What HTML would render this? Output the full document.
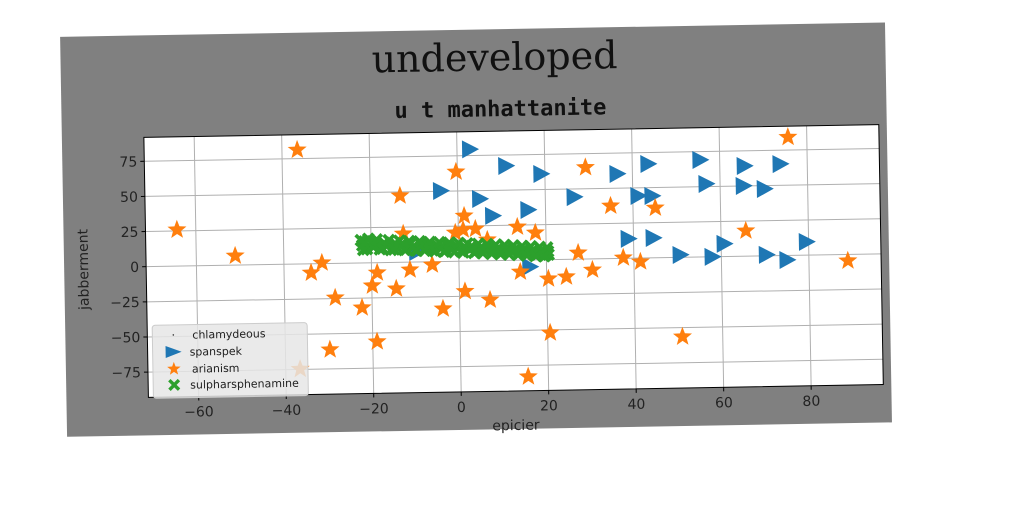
<!DOCTYPE html>
<html><head><meta charset="utf-8"><style>
html,body{margin:0;padding:0;background:#fff;width:1024px;height:512px;overflow:hidden}
svg{display:block}
text{font-family:"DejaVu Sans","Liberation Sans",sans-serif}
</style></head><body>
<svg id="chart" width="1024" height="512" viewBox="0 0 1024 512" xmlns="http://www.w3.org/2000/svg">
<g id="root" transform="rotate(-1 512 256)">
<rect x="64" y="29" width="825" height="400" fill="#808080"/>
<text x="498" y="70" text-anchor="middle" font-size="38" style="font-family:'DejaVu Serif','Liberation Serif',serif" fill="#111">undeveloped</text>
<text x="503" y="116" text-anchor="middle" font-size="22" font-weight="bold" style="font-family:'DejaVu Sans Mono','Liberation Mono',monospace" fill="#111">u t manhattanite</text>
<rect x="146" y="131" width="735" height="260" fill="#fff"/>
<g id="grid"></g>
<g id="marks"></g>
<rect x="146" y="131" width="735" height="260" fill="none" stroke="#000" stroke-width="1"/>
<g id="ticks"></g>
<text x="513" y="430" text-anchor="middle" font-size="14" fill="#222">epicier</text>
<text transform="translate(88 262) rotate(-90)" text-anchor="middle" font-size="14" fill="#222">jabberment</text>
<g>
<rect x="151" y="319" width="155" height="73" rx="3" fill="#e6e6e6" fill-opacity="0.85" stroke="#ccc"/>
<g><circle cx="172" cy="329" r="0.8" fill="#333"/><text x="191" y="333" font-size="11" fill="#222">chlamydeous</text></g>
<g><path d="M164,340 L180,346 L164,352 Z" fill="#1f77b4"/><text x="188" y="350" font-size="11" fill="#222">spanspek</text></g>
<g><path id="legstar" fill="#ff7f0e"/><text x="190" y="367" font-size="11" fill="#222">arianism</text></g>
<g><path id="legx" fill="#2ca02c"/><text x="188" y="383" font-size="11" fill="#222">sulpharsphenamine</text></g>
</g>
</g>
</svg>
<script>
const xTicks=[-60,-40,-20,0,20,40,60,80];
const yTicks=[-75,-50,-25,0,25,50,75];
const blueX=[3.0,11.2,19.2,-3.8,5.1,8.0,16.1,26.7,36.6,43.7,55.6,56.9,41.3,44.5,65.7,73.9,65.4,70.2,38.9,44.6,50.7,58.0,70.4,75.1,79.6,60.8,16.3,-9.5];
const blueY=[79.5,67.3,61.1,50.3,44.1,31.9,35.7,44.3,60.2,66.9,69.1,52.0,44.3,44.1,64.3,65.2,50.1,47.7,13.9,14.2,1.8,0,0.8,-3.1,9.5,9.1,-4.8,7.2];
const orangeX=[-36.5,-64.3,-51.1,-13.2,-0.3,1.4,-12.6,-0.7,1.1,3.9,6.6,13.5,17.6,-31.3,-33.8,-18.7,-11.2,-6.1,-19.9,-14.4,-28.4,-22.3,1.3,7.0,-3.8,-19.0,-29.8,-36.7,14.0,20.4,20.6,15.4,75.7,29.3,34.9,45.1,65.7,27.3,37.6,41.5,30.5,24.5,88.9,50.8];
const orangeY=[81.2,25.9,6.6,47.3,63.6,32.2,20.2,20.3,22.3,22.8,14.9,23.7,19.3,0.6,-6.4,-7.2,-5.5,-2.2,-16.3,-18.8,-24.5,-31.9,-21.5,-27.9,-33.6,-56.2,-61.3,-74.8,-8.3,-13.6,-52.0,-83.0,84.2,65.2,37.5,35.5,18.1,4.5,0.4,-2.6,-7.8,-12.4,-4.5,-56.5];
const greenX=[-22,-21.5,-21,-20,-19.5,-19,-18,-17,-16.5,-15.5,-14.5,-14,-13,-12,-11,-10.5,-9.5,-8.5,-7.5,-7,-6,-5,-4,-3,-2.5,-1.5,-0.5,0.5,1.5,2.5,3,4,5,6,7,8,9,10,11,12,13,14,15,16,17,18,19,19.8,20.4,20.5,
 -21.8,-20.6,-18.7,-17.4,-15.9,-14.8,-13.5,-12.4,-11.3,-9.9,-8.9,-7.8,-6.6,-5.4,-4.4,-3.4,-2.1,-1.0,0.0,1.0,2.0,3.5,4.5,5.5,6.5,7.5,8.5,9.5,10.5,11.5,12.5,13.5,14.5,15.5,16.5,17.5,18.5,19.5,20.2,-22.3];
const greenY=[12.5,15.2,9.8,14.6,11.0,13.9,9.5,14.0,11.6,8.9,13.5,10.2,12.8,9.0,13.1,10.5,8.2,12.4,9.7,12.0,8.1,11.8,9.4,7.6,11.3,8.8,10.9,7.2,9.9,7.9,10.6,6.8,9.3,7.4,10.1,6.5,8.7,5.9,9.0,6.3,8.2,5.2,7.9,4.6,7.1,3.8,6.5,3.1,5.8,3.6,
 9.3,17.0,16.4,10.0,15.8,9.2,15.3,8.7,14.9,8.3,14.6,7.9,14.0,7.4,13.7,7.0,13.3,6.6,12.9,6.2,12.5,5.8,12.1,5.4,11.7,5.0,11.3,4.6,10.9,4.2,10.5,3.8,10.0,3.3,9.6,2.9,9.1,2.5,8.6,16.2];
const chlX=[], chlY=[];
const L=146,T=131,W=735,H=260,xmin=-71.5,xmax=96.5,ymin=-93,ymax=92;
const sx=v=>L+(v-xmin)/(xmax-xmin)*W;
const sy=v=>T+(ymax-v)/(ymax-ymin)*H;
const NS='http://www.w3.org/2000/svg';
const grid=document.getElementById('grid'),marks=document.getElementById('marks'),ticks=document.getElementById('ticks');
function mk(tag,attrs,parent){const e=document.createElementNS(NS,tag);for(const k in attrs)e.setAttribute(k,attrs[k]);parent.appendChild(e);return e;}
function star(cx,cy,r){let d='';for(let i=0;i<10;i++){const a=-Math.PI/2+i*Math.PI/5;const rr=i%2?r*0.42:r;d+=(i?'L':'M')+(cx+rr*Math.cos(a)).toFixed(1)+','+(cy+rr*Math.sin(a)).toFixed(1);}return d+'Z';}
function xmark(cx,cy,s){const t=s*0.4;return `M${cx-s},${cy-s+t}L${cx-s+t},${cy-s}L${cx},${cy-t}L${cx+s-t},${cy-s}L${cx+s},${cy-s+t}L${cx+t},${cy}L${cx+s},${cy+s-t}L${cx+s-t},${cy+s}L${cx},${cy+t}L${cx-s+t},${cy+s}L${cx-s},${cy+s-t}L${cx-t},${cy}Z`;}
document.getElementById('legstar').setAttribute('d',star(172,363,7));
document.getElementById('legx').setAttribute('d',xmark(172,379,6));
xTicks.forEach(v=>{
 const g=mk('line',{x1:sx(v),x2:sx(v),y1:T,y2:T+H,stroke:'#b0b0b0','stroke-width':1},grid);
 
 
 const tk=mk('line',{x1:sx(v),x2:sx(v),y1:T+H,y2:T+H+4,stroke:'#000'},ticks);
 
 
 const t=mk('text',{x:sx(v),y:T+H+20,'text-anchor':'middle','font-size':14,fill:'#222'},ticks);
 t.textContent=(v<0?'\u2212'+(-v):v);
 
 
});
yTicks.forEach(v=>{
 const g=mk('line',{x1:L,x2:L+W,y1:sy(v),y2:sy(v),stroke:'#b0b0b0','stroke-width':1},grid);
 
 
 const tk=mk('line',{x1:L-4,x2:L,y1:sy(v),y2:sy(v),stroke:'#000'},ticks);
 
 
 const t=mk('text',{x:L-7,y:sy(v)+5,'text-anchor':'end','font-size':14,fill:'#222'},ticks);
 t.textContent=(v<0?'\u2212'+(-v):v);
 
 
});
blueX.forEach((v,i)=>{const x=sx(v),y=sy(blueY[i]);
 const p=mk('path',{d:`M${x-8},${y-9}L${x+9},${y}L${x-8},${y+9}Z`,fill:'#1f77b4'},marks);
 
 
});
orangeX.forEach((v,i)=>{
 const p=mk('path',{d:star(sx(v),sy(orangeY[i]),10),fill:'#ff7f0e'},marks);
 
 
});
greenX.forEach((v,i)=>{
 const p=mk('path',{d:xmark(sx(v),sy(greenY[i]),6.5),fill:'#2ca02c'},marks);
 
 
});
chlX.forEach((v,i)=>{
 const p=mk('circle',{cx:sx(v),cy:sy(chlY[i]),r:1,fill:'#333'},marks);
 
 
});
</script>
</body></html>
